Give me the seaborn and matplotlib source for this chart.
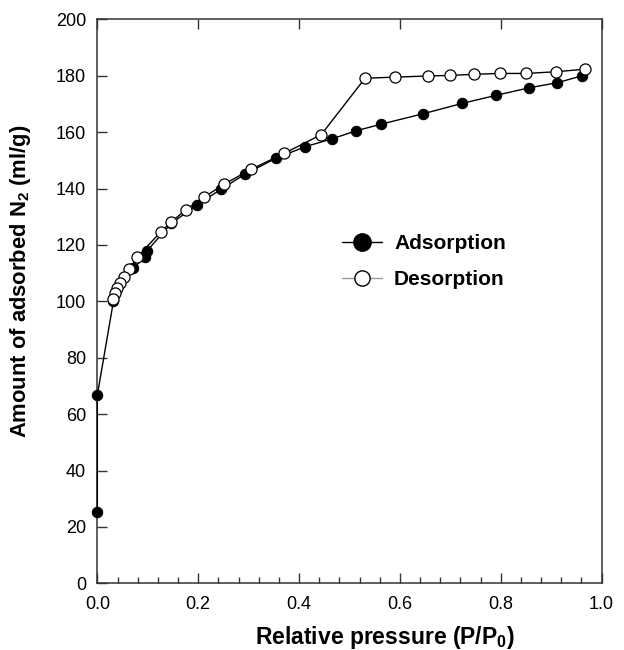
"""N2 adsorption/desorption isotherm, redrawn with seaborn."""

import matplotlib
matplotlib.use("Agg")
import matplotlib.pyplot as plt
from matplotlib.lines import Line2D
from matplotlib.ticker import MultipleLocator, FormatStrFormatter
import seaborn as sns

# values
ads_p = [0.0, 0.0, 0.032, 0.071, 0.095, 0.099, 0.147, 0.197, 0.245, 0.293,
         0.354, 0.412, 0.465, 0.514, 0.5625, 0.646, 0.724, 0.790, 0.856,
         0.912, 0.962]
ads_v = [25.4, 66.8, 100.1, 111.7, 115.8, 118.0, 127.7, 134.1, 139.7, 145.1,
         150.7, 154.8, 157.6, 160.5, 162.8, 166.5, 170.2, 173.0, 175.7,
         177.5, 180.0]

des_p = [0.967, 0.909, 0.851, 0.798, 0.747, 0.700, 0.656, 0.591, 0.531,
         0.444, 0.371, 0.305, 0.252, 0.2115, 0.175, 0.147, 0.126, 0.079,
         0.063, 0.052, 0.045, 0.038, 0.035, 0.031]
des_v = [182.3, 181.4, 180.8, 180.8, 180.5, 180.1, 179.9, 179.5, 179.1,
         159.1, 152.5, 146.8, 141.6, 136.9, 132.4, 128.2, 124.7, 115.6,
         111.3, 108.5, 106.4, 104.6, 102.8, 100.7]

sns.set_theme(style="ticks")
plt.rcParams["font.family"] = ["Liberation Sans", "DejaVu Sans"]
plt.rcParams["mathtext.fontset"] = "custom"
plt.rcParams["mathtext.rm"] = "Liberation Sans"
plt.rcParams["mathtext.bf"] = "Liberation Sans:bold"
for key in ("text.color", "axes.labelcolor", "xtick.color", "ytick.color"):
    plt.rcParams[key] = "black"

fig = plt.figure(figsize=(6.24, 6.5), dpi=100)
ax = fig.add_axes([0.156, 0.1026, 0.808, 0.8677])

sns.lineplot(x=ads_p, y=ads_v, sort=False, estimator=None, ax=ax,
             color="black", linewidth=1.0, marker="o", markersize=7.5,
             markerfacecolor="black", markeredgecolor="black",
             clip_on=False, zorder=3)
sns.lineplot(x=des_p, y=des_v, sort=False, estimator=None, ax=ax,
             color="black", linewidth=1.0, marker="o", markersize=8,
             markerfacecolor="white", markeredgecolor="black",
             markeredgewidth=0.9, clip_on=False, zorder=4)

ax.set_xlim(0, 1.0)
ax.set_ylim(0, 200)
ax.xaxis.set_major_locator(MultipleLocator(0.2))
ax.xaxis.set_minor_locator(MultipleLocator(0.04))
ax.yaxis.set_major_locator(MultipleLocator(20))
ax.xaxis.set_major_formatter(FormatStrFormatter("%.1f"))
ax.tick_params(axis="x", which="major", direction="in", length=7, width=1,
               top=True, labelsize=13, pad=9, color="#333333")
ax.tick_params(axis="x", which="minor", direction="in", length=4, width=1,
               top=False, color="#333333")
ax.tick_params(axis="y", which="major", direction="in", length=7, width=1,
               right=False, labelsize=13, pad=8, color="#333333")
for s in ax.spines.values():
    s.set_linewidth(1.1)
    s.set_color("#333333")

ax.set_xlabel(r"Relative pressure (P/P$_\mathbf{0}$)", fontsize=16.5,
              fontweight="bold")
ax.set_ylabel(r"Amount of adsorbed N$_\mathbf{2}$ (ml/g)", fontsize=15.8,
              fontweight="bold")
ax.xaxis.set_label_coords(0.57, -0.072)
ax.yaxis.set_label_coords(-0.128, 0.536)

handles = [
    Line2D([], [], color="black", linewidth=1.0, marker="o", markersize=12.5,
           markerfacecolor="black", markeredgecolor="black"),
    Line2D([], [], color="#999999", linewidth=1.0, marker="o", markersize=11,
           markerfacecolor="white", markeredgecolor="black"),
]
ax.legend(handles, ["Adsorption", "Desorption"], loc="center left",
          bbox_to_anchor=(0.448, 0.57), frameon=False, handlelength=1.9,
          handletextpad=0.6, labelspacing=0.8,
          prop={"weight": "bold", "size": 15})

fig.savefig("out.png", dpi=100)
